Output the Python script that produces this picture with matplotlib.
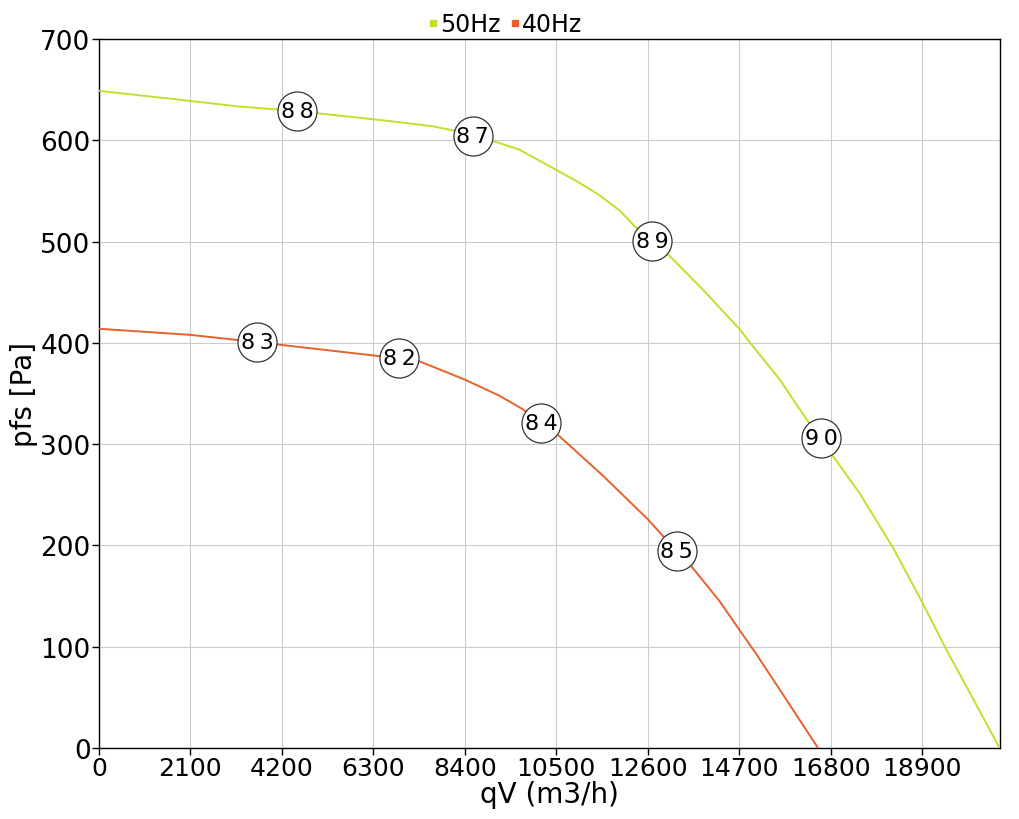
import matplotlib
matplotlib.use("Agg")
import matplotlib.pyplot as plt

# curve data (qV in m3/h, pfs in Pa)
qv_50 = [0, 2100, 3217, 4556, 6280, 6894, 7660, 8120, 8580, 9115, 9650, 10495,
         11000, 11490, 11950, 12330, 12710, 13100, 13860, 14710, 15010, 15630,
         16240, 16580, 16850, 17460, 18230, 18890, 19450, 19990, 20680]
pfs_50 = [649, 639, 633.5, 629, 621, 618, 614, 610, 604.5, 598.5, 591, 571,
          559, 546, 531, 514, 501, 486, 453, 413.6, 397, 364,
          325, 306, 288.5, 252, 198, 145, 97.7, 55, 0]

qv_40 = [0, 2100, 3630, 6900, 7350, 8390, 9190, 9730, 10160, 10570, 11570,
         12600, 13020, 13270, 13630, 14250, 14700, 15090, 15780, 16510]
pfs_40 = [414, 408, 400.8, 384.7, 382, 364, 348, 334.6, 320.5, 308, 269,
          226, 206, 194.8, 178, 145, 117, 93, 48, 0]

# efficiency labels on the curves
lab_50_x = [4556, 8580, 12710, 16580]
lab_50_y = [629, 604.5, 501, 306]
lab_50_t = ["88", "87", "89", "90"]
lab_40_x = [3630, 6900, 10160, 13270]
lab_40_y = [400.8, 384.7, 320.5, 194.8]
lab_40_t = ["83", "82", "84", "85"]

x_ticks = [0, 2100, 4200, 6300, 8400, 10500, 12600, 14700, 16800, 18900]
y_ticks = [0, 100, 200, 300, 400, 500, 600, 700]

c50 = "#c3de2b"
c40 = "#e8612c"

fig = plt.figure(figsize=(10.2, 8.2), dpi=100)
ax = fig.add_axes([0.097, 0.0866, 0.883, 0.8644])

ax.plot(qv_50, pfs_50, color=c50, lw=1.4, label="50Hz", zorder=3)
ax.plot(qv_40, pfs_40, color=c40, lw=1.4, label="40Hz", zorder=3)

for xs, ys, ts in [(lab_50_x, lab_50_y, lab_50_t), (lab_40_x, lab_40_y, lab_40_t)]:
    ax.scatter(xs, ys, s=790, facecolor="white", edgecolor="#333333", lw=0.9, zorder=4)
    for x, y, t in zip(xs, ys, ts):
        ax.text(x, y, "\u2009".join(t), ha="center", va="center", fontsize=16,
                family="DejaVu Sans", zorder=5)

ax.set_xlim(0, 20680)
ax.set_ylim(0, 700)
ax.set_xticks(x_ticks)
ax.set_yticks(y_ticks)
ax.set_xticklabels([str(v) for v in x_ticks], fontsize=18)
ax.set_yticklabels([str(v) for v in y_ticks], fontsize=19)
ax.tick_params(length=5, width=1, pad=1)
ax.grid(color="#cccccc", lw=0.8)
ax.set_axisbelow(True)
for s in ax.spines.values():
    s.set_color("black")
    s.set_linewidth(1)

ax.set_xlabel("qV (m3/h)", fontsize=20, labelpad=0)
ax.set_ylabel("pfs [Pa]", fontsize=20, labelpad=2)

h1 = plt.Line2D([], [], marker="s", color=c50, ls="", markersize=5)
h2 = plt.Line2D([], [], marker="s", color=c40, ls="", markersize=5)
fig.legend([h1, h2], ["50Hz", "40Hz"], loc="upper center", bbox_to_anchor=(0.494, 1.01),
           ncol=2, frameon=False, fontsize=17, handletextpad=0.0, columnspacing=0.3,
           handlelength=0.6)

fig.savefig("out.png", dpi=100)
